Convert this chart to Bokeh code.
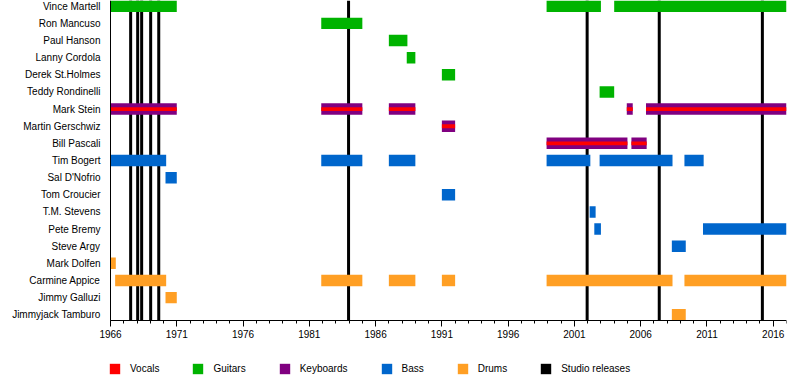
import numpy as np
from bokeh.plotting import figure
from bokeh.models import Range1d, FixedTicker, Legend, LegendItem, ColumnDataSource
from bokeh.embed import file_html
from bokeh.resources import INLINE

# ---------------- data ----------------
members = ["Vince Martell", "Ron Mancuso", "Paul Hanson", "Lanny Cordola",
           "Derek St.Holmes", "Teddy Rondinelli", "Mark Stein", "Martin Gerschwiz",
           "Bill Pascali", "Tim Bogert", "Sal D'Nofrio", "Tom Croucier",
           "T.M. Stevens", "Pete Bremy", "Steve Argy", "Mark Dolfen",
           "Carmine Appice", "Jimmy Galluzi", "Jimmyjack Tamburo"]

span_member = [
    "Vince Martell", "Vince Martell", "Vince Martell", "Ron Mancuso", "Paul Hanson",
    "Lanny Cordola", "Derek St.Holmes", "Teddy Rondinelli",
    "Mark Stein", "Mark Stein", "Mark Stein", "Mark Stein", "Mark Stein",
    "Martin Gerschwiz", "Bill Pascali", "Bill Pascali",
    "Mark Stein", "Mark Stein", "Mark Stein", "Mark Stein", "Mark Stein",
    "Martin Gerschwiz", "Bill Pascali", "Bill Pascali",
    "Tim Bogert", "Tim Bogert", "Tim Bogert", "Tim Bogert", "Tim Bogert", "Tim Bogert",
    "Sal D'Nofrio", "Tom Croucier", "T.M. Stevens", "Pete Bremy", "Pete Bremy", "Steve Argy",
    "Mark Dolfen", "Carmine Appice", "Carmine Appice", "Carmine Appice", "Carmine Appice",
    "Carmine Appice", "Carmine Appice", "Jimmy Galluzi", "Jimmyjack Tamburo",
]
span_start = [
    1966.0, 1998.9, 2004.0, 1981.9, 1987.0,
    1988.35, 1991.0, 2002.9,
    1966.0, 1981.9, 1987.0, 2004.95, 2006.4,
    1991.0, 1998.9, 2005.3,
    1966.0, 1981.9, 1987.0, 2004.95, 2006.4,
    1991.0, 1998.9, 2005.3,
    1966.0, 1981.9, 1987.0, 1998.9, 2002.9, 2009.3,
    1970.15, 1991.0, 2002.15, 2002.5, 2010.7, 2008.35,
    1966.0, 1966.35, 1981.9, 1987.0, 1991.0,
    1998.9, 2009.3, 1970.15, 2008.35,
]
span_end = [
    1971.0, 2003.0, 2017.0, 1985.0, 1988.4,
    1989.0, 1992.0, 2004.0,
    1971.0, 1985.0, 1989.0, 2005.4, 2017.0,
    1992.0, 2005.0, 2006.45,
    1971.0, 1985.0, 1989.0, 2005.4, 2017.0,
    1992.0, 2005.0, 2006.45,
    1970.2, 1985.0, 1989.0, 2002.2, 2008.4, 2010.75,
    1971.0, 1992.0, 2002.6, 2003.0, 2017.0, 2009.4,
    1966.4, 1970.2, 1985.0, 1989.0, 1992.0,
    2008.4, 2017.0, 1971.0, 2009.4,
]
span_role = (["Guitars"] * 8 + ["Keyboards"] * 8 + ["Vocals"] * 8 +
             ["Bass"] * 12 + ["Drums"] * 9)

release_dates = [1967.52, 1968.05, 1968.35, 1969.03, 1969.64, 1983.96, 2001.96, 2007.4, 2015.18]

roles = ["Vocals", "Guitars", "Keyboards", "Bass", "Drums"]
role_colors = {"Vocals": "#FF0000", "Guitars": "#00B300", "Keyboards": "#800080",
               "Bass": "#0066CC", "Drums": "#FF9F24"}

x_start, x_end = 1966, 2017
major_ticks = list(range(1966, 2017, 5))
minor_ticks = list(range(1966, 2018))

# ---------------- layout constants ----------------
FONT = "Liberation Sans"
BAR_H = 0.67
n = len(members)
row_of = {m: i for i, m in enumerate(members)}

LEFT_PX = 110      # room for member names, left of the timeline
PLOT_W = 676       # width of the timeline
PLOT_PX = 320      # height of the timeline area
FRAME_PX = 380     # full frame height (legend lives below the axis)

y_top = -BAR_H / 2
y_axis = n - 1 + BAR_H / 2
y_bottom = y_top + (y_axis - y_top) * FRAME_PX / PLOT_PX
x_view_start = x_start - LEFT_PX * (x_end - x_start) / PLOT_W

p = figure(frame_width=LEFT_PX + PLOT_W, frame_height=FRAME_PX, output_backend="svg",
           toolbar_location=None,
           x_range=Range1d(x_view_start, x_end),
           y_range=Range1d(y_bottom, y_top),
           min_border_left=0, min_border_right=6, min_border_top=0, min_border_bottom=0)
p.xgrid.visible = False
p.ygrid.visible = False
p.outline_line_color = None
p.background_fill_color = "white"
p.border_fill_color = "white"

# studio releases (behind bars), spanning the timeline area
r_rel = p.rect(x=release_dates, y=[(y_top + y_axis) / 2] * len(release_dates),
               width=3, width_units="screen", height=y_axis - y_top,
               fill_color="black", line_color=None)

renderers = {}
for role in ["Guitars", "Keyboards", "Bass", "Drums", "Vocals"]:
    idx = [i for i, r in enumerate(span_role) if r == role]
    src = ColumnDataSource(dict(
        y=[row_of[span_member[i]] for i in idx],
        left=[span_start[i] for i in idx],
        right=[span_end[i] for i in idx],
    ))
    h = BAR_H / 3 if role == "Vocals" else BAR_H
    renderers[role] = p.hbar(y="y", left="left", right="right", height=h, source=src,
                             fill_color=role_colors[role], line_color=None)

# axes
xa = p.xaxis[0]
xa.fixed_location = y_axis
xa.bounds = (x_start, x_end)
xa.ticker = FixedTicker(ticks=major_ticks, minor_ticks=minor_ticks)
xa.major_label_overrides = {t: str(t) for t in major_ticks}
xa.axis_line_color = "black"
xa.major_tick_line_color = "black"
xa.minor_tick_line_color = "black"
xa.major_tick_out = 6
xa.major_tick_in = 0
xa.minor_tick_out = 3
xa.minor_tick_in = 0
xa.major_label_standoff = 3
xa.major_label_text_font = FONT
xa.major_label_text_font_size = "10px"
xa.major_label_text_color = "black"

ya = p.yaxis[0]
ya.fixed_location = x_start
ya.bounds = (y_top, y_axis)
ya.ticker = FixedTicker(ticks=list(range(n)), minor_ticks=[])
ya.major_label_overrides = {i: m for i, m in enumerate(members)}
ya.axis_line_color = "black"
ya.major_tick_out = 0
ya.major_tick_in = 0
ya.minor_tick_out = 0
ya.minor_tick_in = 0
ya.major_label_standoff = 10
ya.major_label_text_font = FONT
ya.major_label_text_font_size = "10px"
ya.major_label_text_color = "black"

items = [LegendItem(label=r, renderers=[renderers[r]]) for r in roles]
items.append(LegendItem(label="Studio releases", renderers=[r_rel]))
legend = Legend(items=items, orientation="horizontal", location=(LEFT_PX - 2, 5),
                padding=0, margin=0, spacing=32, glyph_width=13, glyph_height=13,
                label_height=13, label_standoff=9, label_text_font=FONT,
                label_text_font_size="10px", label_text_color="black",
                border_line_alpha=0, background_fill_alpha=0)
p.add_layout(legend, "center")

open("out.html", "w").write(file_html(p, INLINE))
